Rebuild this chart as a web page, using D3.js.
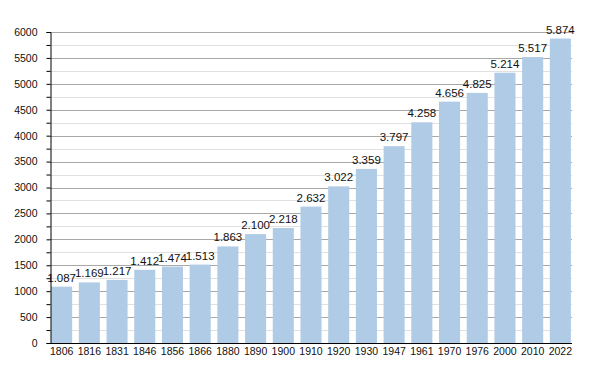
<!DOCTYPE html>
<html><head><meta charset="utf-8">
<script src="https://cdn.jsdelivr.net/npm/d3@7"></script>
<style>body{margin:0;background:#fff}svg{display:block}</style>
</head><body><svg id="c" width="600" height="373"></svg>
<script>
const years = ["1806","1816","1831","1846","1856","1866","1880","1890","1900","1910","1920","1930","1947","1961","1970","1976","2000","2010","2022"];
const population = [1087,1169,1217,1412,1474,1513,1863,2100,2218,2632,3022,3359,3797,4258,4656,4825,5214,5517,5874];
const yTicks = [0,500,1000,1500,2000,2500,3000,3500,4000,4500,5000,5500,6000];

const svg = d3.select("#c");
const L = 50, R = 572, T = 32, B = 343;
const x = d3.scaleBand().domain(years).range([L, R]).paddingInner(0.24).paddingOuter(0.04);
const y = d3.scaleLinear().domain([0, 6000]).range([B, T]);
const fmt = v => d3.format(",")(v).replace(/,/g, ".");
const font = "Liberation Sans, Arial, sans-serif";

// minor grid
const minor = d3.range(250, 6000, 500);
svg.append("g").selectAll("line").data(minor).join("line")
  .attr("x1", L).attr("x2", R).attr("y1", d => Math.round(y(d)) + 0.5).attr("y2", d => Math.round(y(d)) + 0.5)
  .attr("stroke", "#e0e0e0");
// major grid
svg.append("g").selectAll("line").data(yTicks.slice(1)).join("line")
  .attr("x1", L).attr("x2", R).attr("y1", d => Math.round(y(d)) + 0.5).attr("y2", d => Math.round(y(d)) + 0.5)
  .attr("stroke", "#a8a8a8");

// bars
svg.append("g").selectAll("rect").data(population).join("rect")
  .attr("x", (d, i) => x(years[i])).attr("width", x.bandwidth())
  .attr("y", d => y(d)).attr("height", d => B - y(d))
  .attr("fill", "#b0cbe6");

// value labels
svg.append("g").selectAll("text").data(population).join("text")
  .attr("x", (d, i) => x(years[i]) + x.bandwidth() / 2).attr("y", d => y(d) - 5)
  .attr("text-anchor", "middle").attr("font-family", font).attr("font-size", 11.5).attr("fill", "#111")
  .text(d => fmt(d));

// y axis
const ya = svg.append("g").attr("transform", `translate(${L + 0.5},0)`)
  .call(d3.axisLeft(y).tickValues(yTicks).tickSize(4).tickPadding(9).tickFormat(d3.format("d")));
ya.select(".domain").attr("stroke", "#000");
ya.selectAll("text").attr("font-family", font).attr("font-size", 10.5).attr("fill", "#111");
svg.append("g").attr("transform", `translate(${L + 0.5},0)`)
  .call(d3.axisLeft(y).tickValues(minor).tickSize(4).tickFormat(""))
  .select(".domain").remove();

// x axis
const xa = svg.append("g").attr("transform", `translate(0,${B + 0.5})`)
  .call(d3.axisBottom(x).tickSize(0).tickPadding(4.5));
xa.select(".domain").attr("stroke", "#000").attr("d", `M${L},0H${R}`);
xa.selectAll("text").attr("font-family", font).attr("font-size", 10.5).attr("fill", "#111");
</script></body></html>
